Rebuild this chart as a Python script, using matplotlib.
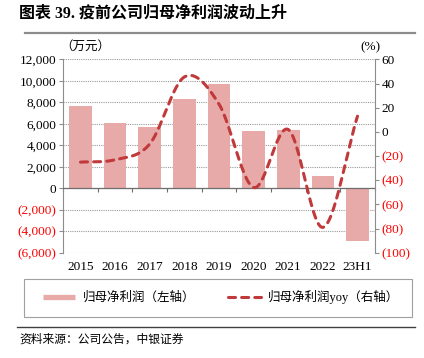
import numpy as np
import matplotlib
matplotlib.use("Agg")
import matplotlib.pyplot as plt
from matplotlib.lines import Line2D
from matplotlib.patches import Rectangle
from matplotlib.ticker import FuncFormatter, MultipleLocator

plt.rcParams['font.family'] = ['Liberation Serif', 'Noto Sans CJK SC', 'DejaVu Sans']

categories = ['2015', '2016', '2017', '2018', '2019', '2020', '2021', '2022', '23H1']
profit = [7700, 6050, 5700, 8300, 9750, 5350, 5450, 1100, -4900]   # 万元
yoy = [-25, -23, -10, 45.5, 23, -46, 2, -79, 13]                    # %

BAR_COLOR = '#E8A9A9'
LINE_COLOR = '#C0393B'
GRID_COLOR = '#9A9A9A'
SPINE_COLOR = '#8C8C8C'
DASHES = (2.3, 2.0)


def smooth(xs, ys, n=30):
    # catmull-rom through the points, like excel's smoothed line
    xs = np.asarray(xs, float)
    ys = np.asarray(ys, float)
    px = np.concatenate([[2 * xs[0] - xs[1]], xs, [2 * xs[-1] - xs[-2]]])
    py = np.concatenate([[2 * ys[0] - ys[1]], ys, [2 * ys[-1] - ys[-2]]])
    outx, outy = [], []
    t = np.linspace(0, 1, n)
    for i in range(1, len(px) - 2):
        for p, out in ((px, outx), (py, outy)):
            p0, p1, p2, p3 = p[i - 1], p[i], p[i + 1], p[i + 2]
            seg = 0.5 * ((2 * p1) + (-p0 + p2) * t + (2 * p0 - 5 * p1 + 4 * p2 - p3) * t ** 2
                         + (-p0 + 3 * p1 - 3 * p2 + p3) * t ** 3)
            out.extend(seg)
    return np.array(outx), np.array(outy)


def paren_fmt(v, pos):
    if v < 0:
        return '({:,.0f})'.format(-v)
    return '{:,.0f}'.format(v)


fig = plt.figure(figsize=(4.24, 3.58), dpi=100)
ax = fig.add_axes([0.149, 0.294, 0.735, 0.540])
x = np.arange(len(categories))

ax.bar(x, profit, width=0.65, color=BAR_COLOR, zorder=2)
ax.set_xlim(-0.5, len(categories) - 0.5)
ax.set_ylim(-6000, 12000)
ax.yaxis.set_major_locator(MultipleLocator(2000))
ax.yaxis.set_major_formatter(FuncFormatter(paren_fmt))
ax.grid(axis='y', color=GRID_COLOR, linestyle=(0, (1, 1)), linewidth=0.8, zorder=0)
ax.axhline(0, color='#6E6E6E', linewidth=0.9, zorder=3)
ax.set_xticks(x)
ax.set_xticklabels(categories)
ax.tick_params(axis='x', length=0, pad=6, labelsize=9.5)
ax.tick_params(axis='y', direction='out', length=3, color=SPINE_COLOR, labelsize=9.5, pad=2)
for lab in ax.get_yticklabels():
    if lab.get_text().startswith('('):
        lab.set_color('#FF0000')
ax.spines['top'].set_visible(False)
ax.spines['bottom'].set_visible(False)
ax.spines['right'].set_visible(False)
ax.spines['left'].set_color(SPINE_COLOR)

# category separator ticks on the zero line
sec = ax.secondary_xaxis(6000 / 18000)
sec.set_xticks(np.arange(len(categories) + 1) - 0.5)
sec.set_xticklabels([])
sec.tick_params(direction='out', length=3, color='#6E6E6E')
sec.spines['bottom'].set_visible(False)

ax2 = ax.twinx()
sx, sy = smooth(x, yoy)
ax2.plot(sx, sy, color=LINE_COLOR, linewidth=2.2, dashes=DASHES,
         dash_capstyle='round', zorder=4)
ax2.set_ylim(-100, 60)
ax2.yaxis.set_major_locator(MultipleLocator(20))
ax2.yaxis.set_major_formatter(FuncFormatter(paren_fmt))
ax2.tick_params(axis='y', direction='out', length=3, color=SPINE_COLOR, labelsize=9.5, pad=2)
for lab in ax2.get_yticklabels():
    if lab.get_text().startswith('('):
        lab.set_color('#FF0000')
for s in ('top', 'bottom', 'left'):
    ax2.spines[s].set_visible(False)
ax2.spines['right'].set_color(SPINE_COLOR)

# units
fig.text(0.142, 1 - 47 / 358, '（万元）', fontsize=9, ha='left', va='center')
fig.text(0.897, 1 - 47 / 358, '(%)', fontsize=9.5, ha='right', va='center')

# title and rules
fig.text(0.045, 1 - 14 / 358, '图表 39. 疫前公司归母净利润波动上升', fontsize=11.5,
         fontweight='bold', ha='left', va='center')
fig.add_artist(Line2D([25 / 424, 415 / 424], [1 - 33 / 358] * 2, color='#8C8C8C', linewidth=1.6))
fig.add_artist(Line2D([17 / 424, 415 / 424], [1 - 327 / 358] * 2, color='#404040', linewidth=1.0))

# legend frame drawn separately so the entries can sit inset
fig.add_artist(Rectangle((23.5 / 424, 1 - 316.5 / 358), 388.5 / 424, 37.5 / 358,
                         transform=fig.transFigure, fill=False,
                         edgecolor='#A0A0A0', linewidth=0.8))
handles = [Line2D([], [], color=BAR_COLOR, linewidth=3.8, solid_capstyle='butt'),
           Line2D([], [], color=LINE_COLOR, linewidth=2.2, dashes=DASHES, dash_capstyle='round')]
fig.legend(handles, ['归母净利润（左轴）', '归母净利润yoy（右轴）'],
           loc='center', ncol=2, mode='expand',
           bbox_to_anchor=(42.5 / 424, 1 - 316 / 358, 357 / 424, 38 / 358),
           frameon=False, fontsize=9,
           handlelength=2.6, handletextpad=0.6, borderpad=0, borderaxespad=0)

fig.text(0.047, 1 - 340 / 358, '资料来源：公司公告，中银证券', fontsize=8.5,
         fontstyle='italic', ha='left', va='center')

fig.savefig('out.png', dpi=100)
